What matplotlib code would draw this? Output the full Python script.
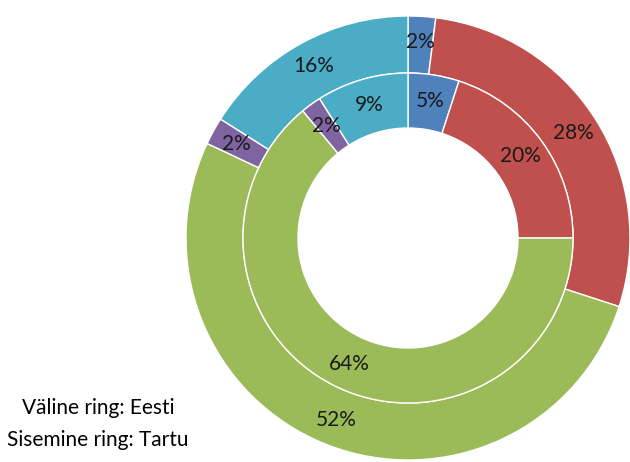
import matplotlib
matplotlib.use('Agg')
import matplotlib.pyplot as plt

categories = ["A", "B", "C", "D", "E"]
eesti = [2, 28, 52, 2, 16]     # outer ring
tartu = [5, 20, 64, 2, 9]      # inner ring
colors = ["#4F81BD", "#C0504D", "#9BBB59", "#8064A2", "#4BACC6"]

plt.rcParams['font.family'] = ['Lato', 'DejaVu Sans']

fig = plt.figure(figsize=(6.3, 4.62), dpi=100)
# axes in pixel units: centre of rings at (408, 238) from top-left
half = 230
ax = fig.add_axes([(408 - half) / 630, (224 - half) / 462, 2 * half / 630, 2 * half / 462])
ax.set_xlim(-half, half)
ax.set_ylim(-half, half)
ax.set_aspect('equal')
ax.axis('off')

wedge_kw = dict(edgecolor='white', linewidth=1)
ax.pie(eesti, radius=222, colors=colors, startangle=90, counterclock=False,
       wedgeprops=dict(width=57, **wedge_kw), autopct='%d%%', pctdistance=196 / 222,
       textprops=dict(fontsize=15, color='#1a1a1a'), frame=False)
ax.pie(tartu, radius=165, colors=colors, startangle=90, counterclock=False,
       wedgeprops=dict(width=55, **wedge_kw), autopct='%d%%', pctdistance=139 / 165,
       textprops=dict(fontsize=15, color='#1a1a1a'), frame=False)
ax.set_xlim(-half, half)
ax.set_ylim(-half, half)

fig.text(98 / 630, 1 - 424 / 462, "Väline ring: Eesti\nSisemine ring: Tartu",
         ha='center', va='center', multialignment='center', fontsize=15,
         linespacing=1.7, color='black')

fig.savefig("out.png", dpi=100)
